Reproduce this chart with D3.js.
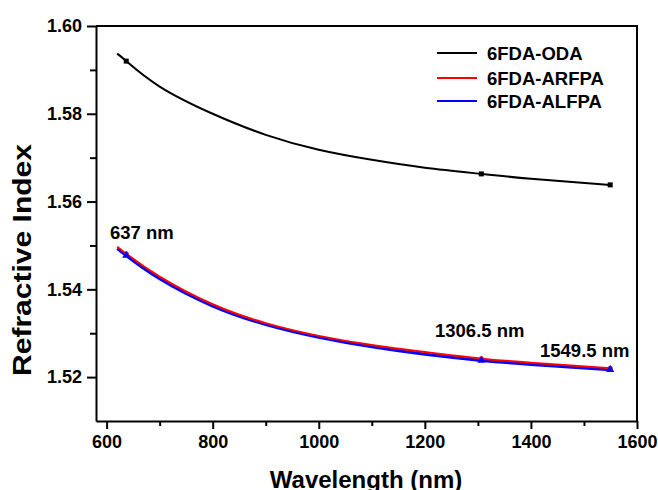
<!DOCTYPE html>
<meta charset="utf-8">
<style>
  body { margin: 0; background: #fff; }
  text { font-family: "Liberation Sans", Arial, sans-serif; font-weight: bold; fill: #000; }
</style>
<svg width="658" height="490"></svg>
<script src="https://d3js.org/d3.v7.min.js"></script>
<script>

// values
var wavelength = [620, 637, 700, 800, 900, 1000, 1100, 1200, 1306.5, 1400, 1549.5];
var oda   = [1.5937, 1.5920, 1.5862, 1.5800, 1.5752, 1.5718, 1.5695, 1.5677, 1.5663, 1.5652, 1.5638];
var arfpa = [1.5497, 1.5481, 1.5429, 1.5366, 1.5323, 1.5294, 1.5273, 1.5257, 1.5242, 1.5233, 1.5220];
var alfpa = [1.5493, 1.5477, 1.5424, 1.5362, 1.5320, 1.5291, 1.5269, 1.5252, 1.5238, 1.5229, 1.5217];
var markedAt = [637, 1306.5, 1549.5];
var xTicks = [600, 800, 1000, 1200, 1400, 1600];
var yTicks = [1.52, 1.54, 1.56, 1.58, 1.60];
var names = ["6FDA-ODA", "6FDA-ARFPA", "6FDA-ALFPA"];
var notes = [
  { text: "637 nm", x: 110, y: 239 },
  { text: "1306.5 nm", x: 435, y: 337 },
  { text: "1549.5 nm", x: 540, y: 357 }
];

var svg = d3.select("svg");
var mLeft = 96, mRight = 637, mTop = 26, mBottom = 421;

var x = d3.scaleLinear().domain([580, 1600]).range([mLeft, mRight]);
var y = d3.scaleLinear().domain([1.51, 1.60]).range([mBottom, mTop]);

// frame
svg.append("path")
  .attr("d", "M" + mLeft + "," + mTop + "H" + mRight + "V" + mBottom)
  .attr("fill", "none").attr("stroke", "#000").attr("stroke-width", 2);

// minor ticks
svg.append("g").attr("transform", "translate(0," + mBottom + ")")
  .call(d3.axisBottom(x).tickValues(d3.range(700, 1600, 200)).tickSize(5).tickFormat(""))
  .call(function(g) { g.select(".domain").remove(); });
svg.append("g").attr("transform", "translate(" + mLeft + ",0)")
  .call(d3.axisLeft(y).tickValues([1.53, 1.55, 1.57, 1.59]).tickSize(6).tickFormat(""))
  .call(function(g) { g.select(".domain").remove(); });

svg.append("g").attr("transform", "translate(0," + mBottom + ")")
  .call(d3.axisBottom(x).tickValues(xTicks).tickSize(8).tickSizeOuter(0).tickPadding(6).tickFormat(d3.format("d")));
svg.append("g").attr("transform", "translate(" + mLeft + ",0)")
  .call(d3.axisLeft(y).tickValues(yTicks).tickSize(9).tickSizeOuter(0).tickPadding(5).tickFormat(d3.format(".2f")));

svg.selectAll(".tick line, .domain").attr("stroke-width", 2);
svg.selectAll(".tick text").attr("font-size", 18);

// axis titles
svg.append("text").attr("x", 366).attr("y", 488).attr("text-anchor", "middle")
  .attr("font-size", 24).text("Wavelength (nm)");
svg.append("text").attr("transform", "translate(31,260) rotate(-90)").attr("text-anchor", "middle")
  .attr("font-size", 25).attr("textLength", 232).attr("lengthAdjust", "spacingAndGlyphs")
  .text("Refractive Index");

var line = d3.line()
  .x(function(d, i) { return x(wavelength[i]); })
  .y(function(d) { return y(d); })
  .curve(d3.curveNatural);

function marks(values) {
  return wavelength.map(function(w, i) { return { w: w, v: values[i] }; })
    .filter(function(d) { return markedAt.indexOf(d.w) >= 0; });
}

svg.append("path").datum(oda).attr("d", line)
  .attr("fill", "none").attr("stroke", "#000").attr("stroke-width", 2);
svg.append("path").datum(alfpa).attr("d", line)
  .attr("fill", "none").attr("stroke", "#0000ff").attr("stroke-width", 3);
svg.append("path").datum(arfpa).attr("d", line)
  .attr("fill", "none").attr("stroke", "#ff0000").attr("stroke-width", 2);

svg.selectAll(".sq").data(marks(oda)).enter().append("rect")
  .attr("x", function(d) { return x(d.w) - 2.5; })
  .attr("y", function(d) { return y(d.v) - 2.5; })
  .attr("width", 5).attr("height", 5).attr("fill", "#000");
svg.selectAll(".ci").data(marks(arfpa)).enter().append("circle")
  .attr("cx", function(d) { return x(d.w); })
  .attr("cy", function(d) { return y(d.v); })
  .attr("r", 2.5).attr("fill", "#ff0000");
svg.selectAll(".tr").data(marks(alfpa)).enter().append("path")
  .attr("transform", function(d) { return "translate(" + x(d.w) + "," + y(d.v) + ")"; })
  .attr("d", d3.symbol().type(d3.symbolTriangle).size(28))
  .attr("fill", "#0000ff");

// legend
var colors = ["#000", "#ff0000", "#0000ff"];
var legY = [53, 78, 101];
names.forEach(function(n, i) {
  svg.append("line").attr("x1", 437).attr("x2", 477).attr("y1", legY[i]).attr("y2", legY[i])
    .attr("stroke", colors[i]).attr("stroke-width", 2);
  svg.append("text").attr("x", 487).attr("y", legY[i] + 6.5).attr("font-size", 18.5).text(n);
});

// annotations
svg.selectAll(".note").data(notes).enter().append("text")
  .attr("x", function(d) { return d.x; }).attr("y", function(d) { return d.y; })
  .attr("font-size", 18.5).text(function(d) { return d.text; });

</script>
